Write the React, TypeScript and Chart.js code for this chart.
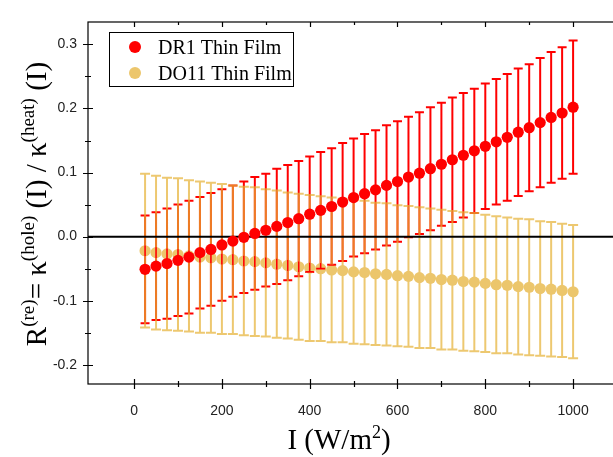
import React, { useEffect, useRef } from 'react';
import { Chart, registerables } from 'chart.js';

Chart.register(...registerables);

// ---- data ----
const intensity = [
  25, 50, 75, 100, 125, 150, 175, 200, 225, 250,
  275, 300, 325, 350, 375, 400, 425, 450, 475, 500,
  525, 550, 575, 600, 625, 650, 675, 700, 725, 750,
  775, 800, 825, 850, 875, 900, 925, 950, 975, 1000,
];

const dr1Values = [
  -0.051, -0.046, -0.042, -0.037, -0.032, -0.025, -0.020, -0.013, -0.007, -0.001,
  0.005, 0.010, 0.016, 0.022, 0.028, 0.035, 0.041, 0.047, 0.054, 0.061,
  0.067, 0.073, 0.080, 0.086, 0.093, 0.099, 0.106, 0.113, 0.120, 0.127,
  0.134, 0.141, 0.148, 0.155, 0.163, 0.170, 0.178, 0.186, 0.193, 0.202,
];

const dr1Errors = [
  0.084, 0.084, 0.086, 0.087, 0.088, 0.087, 0.088, 0.087, 0.087, 0.087,
  0.088, 0.088, 0.090, 0.090, 0.090, 0.090, 0.091, 0.091, 0.092, 0.092,
  0.093, 0.093, 0.094, 0.094, 0.094, 0.095, 0.096, 0.096, 0.097, 0.097,
  0.097, 0.098, 0.098, 0.099, 0.0995, 0.099, 0.101, 0.102, 0.1025, 0.104,
];

const do11Values = [
  -0.022, -0.025, -0.027, -0.028, -0.030, -0.032, -0.033, -0.035, -0.036, -0.038,
  -0.039, -0.041, -0.043, -0.045, -0.047, -0.049, -0.050, -0.052, -0.053, -0.055,
  -0.056, -0.058, -0.059, -0.061, -0.062, -0.064, -0.065, -0.067, -0.068, -0.070,
  -0.071, -0.073, -0.075, -0.076, -0.078, -0.079, -0.081, -0.082, -0.084, -0.086,
];

const do11Errors = [
  0.120, 0.120, 0.119, 0.119, 0.118, 0.118, 0.117, 0.117, 0.116, 0.116,
  0.116, 0.115, 0.115, 0.114, 0.114, 0.114, 0.113, 0.113, 0.112, 0.112,
  0.112, 0.111, 0.111, 0.110, 0.110, 0.110, 0.109, 0.109, 0.108, 0.108,
  0.108, 0.107, 0.107, 0.106, 0.106, 0.106, 0.105, 0.105, 0.104, 0.104,
];

const seriesNames = ['DR1 Thin Film', 'DO11 Thin Film'];

const xTickValues = [0, 200, 400, 600, 800, 1000];
const xMinorTicks = [100, 300, 500, 700, 900];
const yTickValues = [-0.2, -0.1, 0.0, 0.1, 0.2, 0.3];
const yMinorTicks = [-0.15, -0.05, 0.05, 0.15, 0.25];

// ---- style ----
const RED = '#FF0000';
const GOLD = 'rgb(236,198,108)';
const GOLD_BAR = 'rgba(229,176,51,0.7)';
const SERIF = '"Liberation Serif", "Times New Roman", serif';
const SANS = '"Liberation Sans", Arial, sans-serif';

type Seg = { t: string; sup?: boolean };

function drawRich(ctx: CanvasRenderingContext2D, segs: Seg[], size: number, supSize: number, raise: number) {
  const widths = segs.map((s) => {
    ctx.font = `${s.sup ? supSize : size}px ${SERIF}`;
    return ctx.measureText(s.t).width;
  });
  const total = widths.reduce((a, b) => a + b, 0);
  let x = -total / 2;
  segs.forEach((s, i) => {
    ctx.font = `${s.sup ? supSize : size}px ${SERIF}`;
    ctx.fillText(s.t, x, s.sup ? -raise : 0);
    x += widths[i];
  });
}

function drawErrorBars(chart: any, values: number[], errors: number[], color: string, lw: number, cap: number) {
  const { ctx, scales } = chart;
  const x = scales.x;
  const y = scales.y;
  ctx.save();
  ctx.strokeStyle = color;
  ctx.lineWidth = lw;
  ctx.beginPath();
  intensity.forEach((xv, i) => {
    const px = x.getPixelForValue(xv);
    const top = y.getPixelForValue(values[i] + errors[i]);
    const bot = y.getPixelForValue(values[i] - errors[i]);
    ctx.moveTo(px, top);
    ctx.lineTo(px, bot);
    ctx.moveTo(px - cap, top);
    ctx.lineTo(px + cap, top);
    ctx.moveTo(px - cap, bot);
    ctx.lineTo(px + cap, bot);
  });
  ctx.stroke();
  ctx.restore();
}

const POINT_R = 5.6;

const decorPlugin = {
  id: 'decor',
  beforeDatasetsDraw(chart: any) {
    const { ctx, chartArea, scales } = chart;
    drawErrorBars(chart, dr1Values, dr1Errors, RED, 2, 4.5);
    drawErrorBars(chart, do11Values, do11Errors, GOLD_BAR, 2, 5);
    // zero line
    const y0 = scales.y.getPixelForValue(0);
    ctx.save();
    ctx.strokeStyle = '#000';
    ctx.lineWidth = 2;
    ctx.beginPath();
    ctx.moveTo(chartArea.left, y0);
    ctx.lineTo(chartArea.right, y0);
    ctx.stroke();
    ctx.restore();
  },
  afterDatasetDraw(chart: any, args: any) {
    if (args.index !== 1) return;
    // red error lines visible over the gold dots
    const { ctx, scales } = chart;
    const x = scales.x;
    const y = scales.y;
    ctx.save();
    ctx.beginPath();
    intensity.forEach((xv, i) => {
      const px = x.getPixelForValue(xv);
      const py = y.getPixelForValue(do11Values[i]);
      ctx.moveTo(px + POINT_R, py);
      ctx.arc(px, py, POINT_R, 0, Math.PI * 2);
    });
    ctx.clip();
    ctx.strokeStyle = RED;
    ctx.lineWidth = 1.6;
    ctx.beginPath();
    intensity.forEach((xv, i) => {
      const px = x.getPixelForValue(xv);
      const top = y.getPixelForValue(dr1Values[i] + dr1Errors[i]);
      const bot = y.getPixelForValue(dr1Values[i] - dr1Errors[i]);
      ctx.moveTo(px, top);
      ctx.lineTo(px, bot);
      ctx.moveTo(px - 4.5, top);
      ctx.lineTo(px + 4.5, top);
      ctx.moveTo(px - 4.5, bot);
      ctx.lineTo(px + 4.5, bot);
    });
    ctx.stroke();
    ctx.restore();
  },
  afterDraw(chart: any) {
    const { ctx, chartArea, scales } = chart;
    const { left, right, top, bottom } = chartArea;
    const x = scales.x;
    const y = scales.y;
    ctx.save();
    // frame
    ctx.strokeStyle = '#000';
    ctx.lineWidth = 1.2;
    ctx.strokeRect(left, top, right - left, bottom - top);
    // ticks
    ctx.beginPath();
    xTickValues.forEach((v) => {
      const px = Math.round(x.getPixelForValue(v)) + 0.5;
      ctx.moveTo(px, bottom - 5);
      ctx.lineTo(px, bottom + 5);
      ctx.moveTo(px, top);
      ctx.lineTo(px, top + 5);
    });
    xMinorTicks.forEach((v) => {
      const px = Math.round(x.getPixelForValue(v)) + 0.5;
      ctx.moveTo(px, bottom - 3);
      ctx.lineTo(px, bottom + 3);
      ctx.moveTo(px, top);
      ctx.lineTo(px, top + 3);
    });
    yTickValues.forEach((v) => {
      const py = Math.round(y.getPixelForValue(v)) + 0.5;
      ctx.moveTo(left - 5, py);
      ctx.lineTo(left + 5, py);
    });
    yMinorTicks.forEach((v) => {
      const py = Math.round(y.getPixelForValue(v)) + 0.5;
      ctx.moveTo(left - 3, py);
      ctx.lineTo(left + 3, py);
    });
    ctx.stroke();

    // legend
    ctx.lineWidth = 1;
    ctx.strokeRect(109.5, 32.5, 184, 54);
    const legendColors = [RED, GOLD];
    const rows = [47, 73];
    legendColors.forEach((c, i) => {
      ctx.fillStyle = c;
      ctx.beginPath();
      ctx.arc(135, rows[i], 6, 0, Math.PI * 2);
      ctx.fill();
      ctx.fillStyle = '#000';
      ctx.font = `20px ${SERIF}`;
      ctx.textAlign = 'left';
      ctx.textBaseline = 'alphabetic';
      ctx.fillText(seriesNames[i], 158, rows[i] + 7);
    });

    // axis titles
    ctx.fillStyle = '#000';
    ctx.textAlign = 'left';
    ctx.textBaseline = 'alphabetic';
    ctx.save();
    ctx.translate(339, 449);
    drawRich(ctx, [{ t: 'I (W/m' }, { t: '2', sup: true }, { t: ')' }], 29, 18, 11);
    ctx.restore();

    ctx.save();
    ctx.translate(46, 204);
    ctx.rotate(-Math.PI / 2);
    drawRich(
      ctx,
      [
        { t: 'R' },
        { t: '(re)', sup: true },
        { t: '= κ' },
        { t: '(hole)', sup: true },
        { t: ' (I) / κ' },
        { t: '(heat)', sup: true },
        { t: ' (I)' },
      ],
      29,
      19,
      12
    );
    ctx.restore();
    ctx.restore();
  },
};

export default function App() {
  const ref = useRef<HTMLCanvasElement>(null);
  useEffect(() => {
    if (!ref.current) return;
    const chart = new Chart(ref.current, {
      type: 'scatter',
      data: {
        datasets: [
          {
            label: seriesNames[0],
            data: intensity.map((v, i) => ({ x: v, y: dr1Values[i] })),
            backgroundColor: RED,
            borderWidth: 0,
            pointRadius: POINT_R,
            pointBorderWidth: 0,
          },
          {
            label: seriesNames[1],
            data: intensity.map((v, i) => ({ x: v, y: do11Values[i] })),
            backgroundColor: GOLD,
            borderWidth: 0,
            pointRadius: POINT_R,
            pointBorderWidth: 0,
          },
        ],
      },
      options: {
        animation: false,
        responsive: false,
        devicePixelRatio: 1,
        layout: { padding: { top: 22, right: 8, left: 0, bottom: 0 } },
        plugins: { legend: { display: false }, tooltip: { enabled: false } },
        scales: {
          x: {
            type: 'linear',
            min: -105,
            max: 1100,
            grid: { display: false, drawTicks: false },
            border: { display: false },
            ticks: {
              font: { family: SANS, size: 14 },
              color: '#222',
              padding: 19,
              maxRotation: 0,
              autoSkip: false,
              includeBounds: false,
              callback: (v: any) => String(v),
            },
            afterBuildTicks: (s: any) => {
              s.ticks = xTickValues.map((value) => ({ value }));
            },
            afterFit: (s: any) => {
              s.height = 73;
            },
          },
          y: {
            type: 'linear',
            min: -0.23,
            max: 0.335,
            grid: { display: false, drawTicks: false },
            border: { display: false },
            ticks: {
              font: { family: SANS, size: 14 },
              color: '#222',
              padding: 11,
              autoSkip: false,
              includeBounds: false,
              callback: (v: any) => Number(v).toFixed(1),
            },
            afterBuildTicks: (s: any) => {
              s.ticks = yTickValues.map((value) => ({ value }));
            },
            afterFit: (s: any) => {
              s.width = 88;
            },
          },
        },
      },
      plugins: [decorPlugin],
    } as any);
    return () => chart.destroy();
  }, []);

  return (
    <div
      style={{
        position: 'fixed',
        left: 0,
        top: 0,
        width: 613,
        height: 457,
        overflow: 'hidden',
        background: '#fff',
      }}
    >
      <canvas ref={ref} width={625} height={457} style={{ display: 'block', width: 625, height: 457 }} />
    </div>
  );
}
